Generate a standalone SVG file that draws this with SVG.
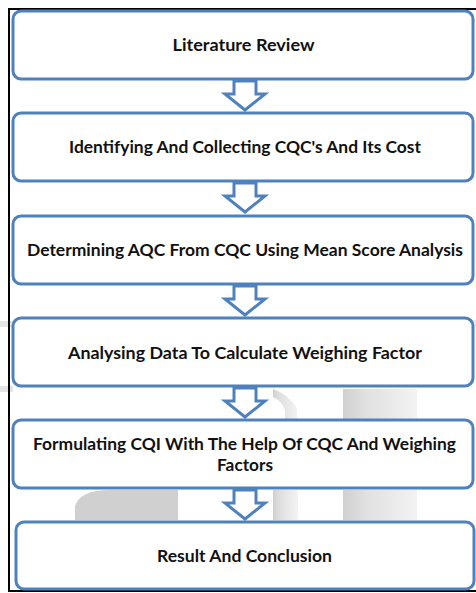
<svg xmlns="http://www.w3.org/2000/svg" width="476" height="593" viewBox="0 0 476 593">
  <defs>
    <style>
      .box { fill: #ffffff; stroke: #4f81bd; stroke-width: 3; }
      .arrow { fill: #ffffff; stroke: #4f81bd; stroke-width: 3; stroke-linejoin: miter; }
      .label { font-family: Lato, "Open Sans", "Liberation Sans", sans-serif; font-weight: bold; font-size: 17.5px; fill: #111111; text-anchor: middle; dominant-baseline: central; }
      .mark { fill: #d0d0d0; }
    </style>
    <linearGradient id="fadeH" x1="0" y1="0" x2="1" y2="0">
      <stop offset="0" stop-color="#d0d0d0"/>
      <stop offset="0.3" stop-color="#e0e0e0"/>
      <stop offset="1" stop-color="#f3f3f3"/>
    </linearGradient>
  </defs>

  <rect width="476" height="593" fill="#ffffff"/>

  <!-- faint background marks -->
  <g id="watermark">
    <rect x="0" y="321" width="13" height="6" fill="#e4e4e4"/>
    <rect x="0" y="386" width="13" height="6" fill="#e4e4e4"/>
    <rect x="465" y="320" width="11" height="6" fill="#e8e8e8"/>
    <path d="M273,389 Q288,394 297,408 V420 H285 V410 Q281,400 273,397 Z" fill="url(#fadeH)"/>
    <rect x="343" y="389" width="74" height="31" fill="url(#fadeH)"/>
    <path d="M75,520 V506 Q80,490 110,490 H178 V520 Z" class="mark"/>
    <rect x="273" y="490" width="25" height="30" fill="url(#fadeH)"/>
    <rect x="343" y="490" width="74" height="30" fill="url(#fadeH)"/>
  </g>

  <!-- frame -->
  <path d="M476,9 H9 V591 H476" fill="none" stroke="#000000" stroke-width="2"/>

  <g id="connectors">
    <path class="arrow" d="M234,81 H256 V94 H265 L245,110 L225,94 H234 Z"/>
    <path class="arrow" d="M234,183 H256 V196 H265 L245,212 L225,196 H234 Z"/>
    <path class="arrow" d="M234,286 H256 V299 H265 L245,315 L225,299 H234 Z"/>
    <path class="arrow" d="M234,388 H256 V401 H265 L245,417 L225,401 H234 Z"/>
    <path class="arrow" d="M234,490 H256 V503 H265 L245,519 L225,503 H234 Z"/>
  </g>

  <g id="literature-review">
    <rect class="box" x="13" y="11" width="460" height="68" rx="8"/>
    <text class="label" x="243.5" y="44" textLength="142" lengthAdjust="spacingAndGlyphs">Literature Review</text>
  </g>
  <g id="identifying-cqc">
    <rect class="box" x="13" y="113" width="460" height="68" rx="8"/>
    <text class="label" x="245" y="146" textLength="352" lengthAdjust="spacingAndGlyphs">Identifying And Collecting CQC's And Its Cost</text>
  </g>
  <g id="determining-aqc">
    <rect class="box" x="13" y="216" width="460" height="68" rx="8"/>
    <text class="label" x="245" y="249" textLength="436" lengthAdjust="spacingAndGlyphs">Determining AQC From CQC Using Mean Score Analysis</text>
  </g>
  <g id="analysing-data">
    <rect class="box" x="13" y="318" width="460" height="68" rx="8"/>
    <text class="label" x="245" y="352" textLength="354" lengthAdjust="spacingAndGlyphs">Analysing Data To Calculate Weighing Factor</text>
  </g>
  <g id="formulating-cqi">
    <rect class="box" x="13" y="420" width="460" height="68" rx="8"/>
    <text class="label" x="244.5" y="443" textLength="423" lengthAdjust="spacingAndGlyphs">Formulating CQI With The Help Of CQC And Weighing</text>
    <text class="label" x="245" y="464" textLength="56" lengthAdjust="spacingAndGlyphs">Factors</text>
  </g>
  <g id="result-conclusion">
    <rect class="box" x="16" y="522" width="458" height="67" rx="8"/>
    <text class="label" x="244.5" y="555" textLength="175" lengthAdjust="spacingAndGlyphs">Result And Conclusion</text>
  </g>
</svg>
